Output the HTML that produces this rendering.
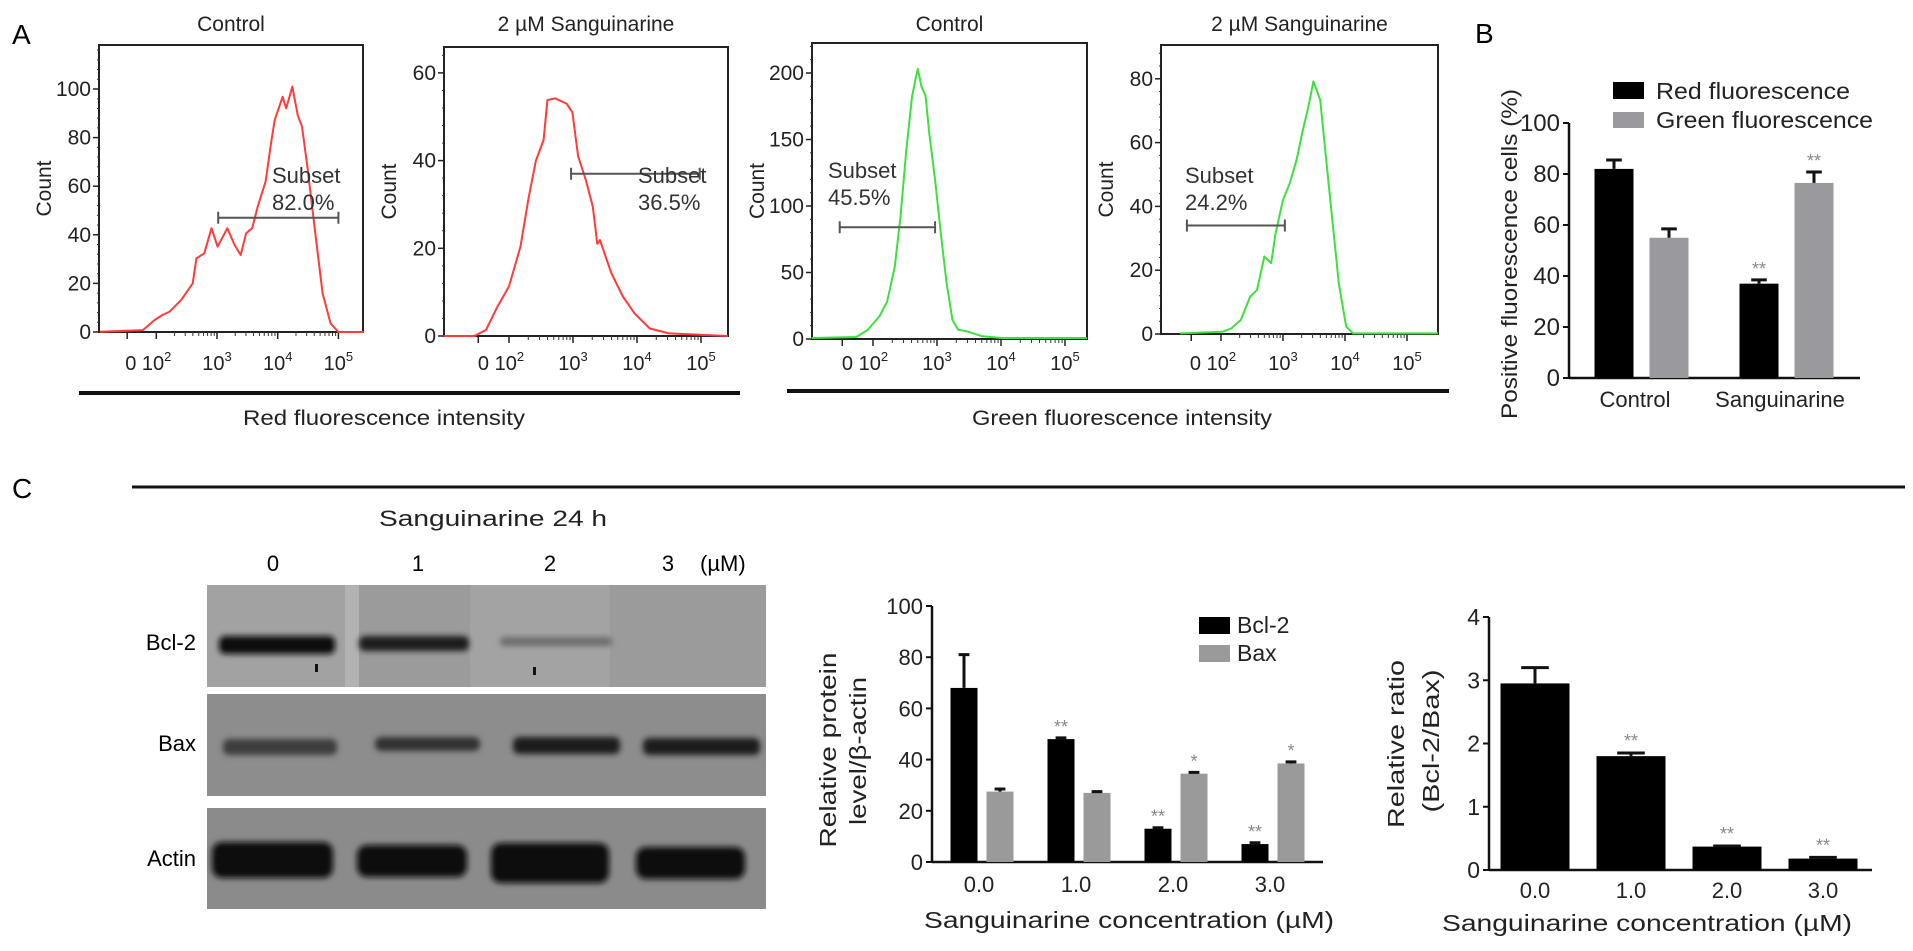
<!DOCTYPE html>
<html><head><meta charset="utf-8"><style>
html,body{margin:0;padding:0;background:#fff;}
svg{display:block;font-family:"Liberation Sans",Arial,sans-serif;}
</style></head><body>
<svg id="fig" width="1913" height="951" viewBox="0 0 1913 951" xmlns="http://www.w3.org/2000/svg">
<defs><filter id="blur" x="-20%" y="-50%" width="140%" height="200%"><feGaussianBlur stdDeviation="3"/></filter></defs>
<rect width="1913" height="951" fill="#fff"/>
<text x="12" y="44" font-size="28">A</text>
<text x="1475" y="43" font-size="28">B</text>
<text x="12" y="498" font-size="28">C</text>
<line x1="79" y1="393" x2="740" y2="393" stroke="#111" stroke-width="4"/>
<line x1="787" y1="391" x2="1449" y2="391" stroke="#111" stroke-width="4"/>
<text x="384" y="425" font-size="21" text-anchor="middle" textLength="282" lengthAdjust="spacingAndGlyphs" fill="#222">Red fluorescence intensity</text>
<text x="1122" y="425" font-size="21" text-anchor="middle" textLength="300" lengthAdjust="spacingAndGlyphs" fill="#222">Green fluorescence intensity</text>
<line x1="132" y1="487" x2="1905" y2="487" stroke="#111" stroke-width="3"/>
<g id="blot">
<text x="493" y="526" font-size="22" text-anchor="middle" textLength="228" lengthAdjust="spacingAndGlyphs" fill="#222">Sanguinarine 24 h</text>
<text x="273" y="571" font-size="22" text-anchor="middle">0</text>
<text x="418" y="571" font-size="22" text-anchor="middle">1</text>
<text x="550" y="571" font-size="22" text-anchor="middle">2</text>
<text x="668" y="571" font-size="22" text-anchor="middle">3</text>
<text x="700" y="571" font-size="22">(µM)</text>
<text x="196" y="650" font-size="22" text-anchor="end">Bcl-2</text>
<text x="196" y="751" font-size="22" text-anchor="end">Bax</text>
<text x="196" y="866" font-size="22" text-anchor="end">Actin</text>
<rect x="207" y="585" width="559" height="102" fill="#9b9b9b"/>
<rect x="207" y="585" width="138" height="102" fill="#a2a2a2"/>
<rect x="345" y="585" width="14" height="102" fill="#b2b2b2"/>
<rect x="470" y="585" width="140" height="102" fill="#a3a3a3"/>
<rect x="219" y="636" width="116" height="18" rx="6" fill="#111" filter="url(#blur)"/>
<rect x="359" y="636" width="110" height="15" rx="6" fill="#1a1a1a" filter="url(#blur)"/>
<rect x="500" y="637" width="112" height="9" rx="4" fill="#6d6d6d" filter="url(#blur)"/>
<rect x="315" y="664" width="3" height="8" fill="#111"/>
<rect x="533" y="667" width="3" height="8" fill="#111"/>
<rect x="207" y="694" width="559" height="102" fill="#8d8d8d"/>
<rect x="223" y="739" width="114" height="16" rx="6" fill="#3c3c3c" filter="url(#blur)"/>
<rect x="375" y="737" width="105" height="14" rx="6" fill="#333" filter="url(#blur)"/>
<rect x="513" y="737" width="107" height="17" rx="6" fill="#1c1c1c" filter="url(#blur)"/>
<rect x="643" y="738" width="117" height="17" rx="6" fill="#1e1e1e" filter="url(#blur)"/>
<rect x="207" y="808" width="559" height="101" fill="#8b8b8b"/>
<rect x="212" y="842" width="121" height="36" rx="10" fill="#080808" filter="url(#blur)"/>
<rect x="357" y="845" width="110" height="32" rx="10" fill="#080808" filter="url(#blur)"/>
<rect x="491" y="843" width="118" height="40" rx="10" fill="#080808" filter="url(#blur)"/>
<rect x="636" y="847" width="109" height="32" rx="10" fill="#080808" filter="url(#blur)"/>
</g>
</svg>
<script>
// ---------- Panel A histogram data (x in decade units: 2 = 10^2, 3 = 10^3 ...; y = count) ----------
const hist1X = [1.07,1.78,1.97,2.10,2.22,2.41,2.60,2.66,2.79,2.91,3.01,3.17,3.29,3.39,3.48,3.58,3.67,3.80,3.89,3.95,4.08,4.14,4.24,4.33,4.40,4.49,4.62,4.74,4.87,5.00,5.42];
const hist1Y = [0.1,0.8,4.9,7,8.4,13.2,20,30.3,32.4,42.7,35.1,42.7,35.8,31.7,40.6,42.7,51.6,61.9,77.6,87.2,96.8,92,101,89.3,84.5,68,40.6,15.9,3.6,0,0];
const hist2X = [0.98,1.46,1.64,1.82,2.0,2.18,2.30,2.42,2.54,2.60,2.72,2.90,2.99,3.08,3.20,3.31,3.38,3.42,3.60,3.78,3.96,4.20,4.50,5.42];
const hist2Y = [0,0,1.4,6.7,11.3,20.4,31,40,44.7,53.8,54.2,53,51,41,35.6,29.5,21,21.9,14.3,9,5.2,1.7,0.6,0];
const hist3X = [1.04,1.74,1.92,2.10,2.22,2.34,2.43,2.52,2.61,2.67,2.70,2.76,2.82,2.88,2.97,3.06,3.15,3.24,3.33,3.47,3.71,4.01,5.34];
const hist3Y = [0.75,1.5,7,17,28,54.5,92,142,182,197,203,189.5,183,154.5,119.5,79.5,42,14.5,7,5.75,2,0.75,0.75];
const hist4X = [1.34,2.02,2.17,2.32,2.47,2.58,2.70,2.81,2.88,3.0,3.11,3.22,3.31,3.41,3.49,3.60,3.68,3.79,3.90,4.02,4.13,5.50];
const hist4Y = [0.2,0.7,1.8,4.4,11.7,13.8,24.3,22.2,31.6,42,47.3,54.6,63,71.3,79.2,73.4,57.7,36.8,15.9,2.3,0.2,0.2];
const histTitles = ["Control","2 µM Sanguinarine","Control","2 µM Sanguinarine"];
const yTicks1 = [0,20,40,60,80,100];
const yTicks2 = [0,20,40,60];
const yTicks3 = [0,50,100,150,200];
const yTicks4 = [0,20,40,60,80];
const xDecades = [2,3,4,5];
const gateStart = [3.02,2.97,1.48,1.45];
const gateEnd = [5.0,4.98,2.97,3.03];
const gateLevel = [47,37,84,34];
const subsetPct = ["82.0%","36.5%","45.5%","24.2%"];

// ---------- Panel B data ----------
const bCats = ["Control","Sanguinarine"];
const bRed = [82,37];
const bRedErr = [3.5,1.5];
const bGreen = [55,76.5];
const bGreenErr = [3.5,4.3];
const bRedSig = ["","**"];
const bGreenSig = ["","**"];
const bTicks = [0,20,40,60,80,100];

// ---------- Panel C protein data ----------
const cCats = ["0.0","1.0","2.0","3.0"];
const cBcl2 = [68,48,13,7];
const cBcl2Err = [13,0.5,0.4,0.5];
const cBax = [27.5,27,34.5,38.5];
const cBaxErr = [1,0.5,0.5,0.6];
const cBcl2Sig = ["","**","**","**"];
const cBaxSig = ["","","*","*"];
const cTicks = [0,20,40,60,80,100];

// ---------- Panel C ratio data ----------
const rVals = [2.95,1.8,0.37,0.18];
const rErr = [0.25,0.05,0.01,0.02];
const rSig = ["","**","**","**"];
const rTicks = [0,1,2,3,4];

const NS = 'http://www.w3.org/2000/svg';
const svg = document.getElementById('fig');
function mk(tag, attrs, parent) {
  const e = document.createElementNS(NS, tag);
  for (const k in attrs) e.setAttribute(k, attrs[k]);
  (parent || svg).appendChild(e);
  return e;
}
function txt(s, attrs, parent) { const t = mk('text', attrs, parent); t.textContent = s; return t; }

// ----- histograms -----
const panels = [
  {box:[99,45,363,332], ppc:2.43, x3:217, dec:60.7, ticks:yTicks1, xs:hist1X, ys:hist1Y, color:'#ff3b3b', sub:'center', subX:272, subY:183},
  {box:[444,47,728,336], ppc:4.385, x3:573, dec:64, ticks:yTicks2, xs:hist2X, ys:hist2Y, color:'#ff3b3b', sub:'center', subX:638, subY:183},
  {box:[812,43,1087,339], ppc:1.33, x3:937, dec:64, ticks:yTicks3, xs:hist3X, ys:hist3Y, color:'#3ee03e', sub:'start', subX:828, subY:178},
  {box:[1161,45,1438,334], ppc:3.19, x3:1283, dec:62, ticks:yTicks4, xs:hist4X, ys:hist4Y, color:'#3ee03e', sub:'start', subX:1185, subY:183}
];
panels.forEach((p, i) => {
  const [x0,y0,x1,y1] = p.box;
  const g = mk('g', {});
  
  
  const sx = d => p.x3 + (d - 3) * p.dec;
  const sy = v => y1 - v * p.ppc;
  const t = txt(histTitles[i], {x:(x0+x1)/2, y:31, 'font-size':21, 'text-anchor':'middle', fill:'#222'}, g);
  
  
  const box = mk('rect', {x:x0, y:y0, width:x1-x0, height:y1-y0, fill:'none', stroke:'#222', 'stroke-width':2}, g);
  
  
  const cl = txt('Count', {x:0, y:0, 'font-size':21, 'text-anchor':'middle', transform:`translate(${x0-48},${(y0+y1)/2}) rotate(-90)`, fill:'#222'}, g);
  
  
  const step = p.ticks[1] - p.ticks[0];
  for (let v = 0; v <= p.ticks[p.ticks.length-1] + step; v += step/5) {
    const yy = sy(v);
    if (yy < y0) break;
    const mt = mk('line', {x1:x0-2, x2:x0, y1:yy, y2:yy, stroke:'#333', 'stroke-width':1}, g);
    
    
  }
  p.ticks.forEach(v => {
    const tk = mk('line', {x1:x0-6, x2:x0, y1:sy(v), y2:sy(v), stroke:'#222', 'stroke-width':1.5}, g);
    
    
    const tl = txt(String(v), {x:x0-8, y:sy(v)+7, 'font-size':21, 'text-anchor':'end', fill:'#222'}, g);
    
    
  });
  xDecades.forEach(d => {
    const tk = mk('line', {x1:sx(d), x2:sx(d), y1:y1, y2:y1+7, stroke:'#222', 'stroke-width':1.5}, g);
    
    
    for (let m = 2; m <= 9 && d < 5; m++) {
      const xm = sx(d + Math.log10(m));
      const mt = mk('line', {x1:xm, x2:xm, y1:y1, y2:y1+4, stroke:'#333', 'stroke-width':1}, g);
      
      
    }
    const lab = txt('', {x:sx(d), y:370, 'font-size':20, 'text-anchor':'middle', fill:'#222'}, g);
    
    
    const prefix = d === 2 ? '0 10' : '10';
    const a = mk('tspan', {}, lab); a.textContent = prefix;
    const b = mk('tspan', {dy:-9, 'font-size':13}, lab); b.textContent = String(d);
    if (d === 2) lab.setAttribute('x', sx(d) - 8);
  });
  const zt = mk('line', {x1:sx(1.52), x2:sx(1.52), y1:y1, y2:y1+7, stroke:'#222', 'stroke-width':1.5}, g);
  
  
  const pts = p.xs.map((d, k) => `${sx(d).toFixed(1)},${sy(p.ys[k]).toFixed(1)}`).join(' ');
  const curve = mk('polyline', {points:pts, fill:'none', stroke:p.color, 'stroke-width':2, 'stroke-linejoin':'round'}, g);
  
  
  const gy = sy(gateLevel[i]);
  const ga = sx(gateStart[i]), gb = sx(gateEnd[i]);
  const gl = mk('path', {d:`M${ga},${gy}H${gb}M${ga},${gy-6}V${gy+6}M${gb},${gy-6}V${gy+6}`, stroke:'#555', 'stroke-width':2, fill:'none'}, g);
  
  
  const s1 = txt('Subset', {x:p.subX, y:p.subY, 'font-size':22, 'text-anchor':p.sub, fill:'#333'}, g);
  
  
  const s2 = txt(subsetPct[i], {x:p.subX, y:p.subY+27, 'font-size':22, 'text-anchor':p.sub, fill:'#333'}, g);
  
  
});

// ----- generic bar chart axis helper -----
function yAxis(g, x, yBase, ppu, ticks, fmt, fs) {
  const top = yBase - ticks[ticks.length-1]*ppu;
  const ax = mk('line', {x1:x, x2:x, y1:top, y2:yBase, stroke:'#111', 'stroke-width':2.5}, g);
  
  
  ticks.forEach(v => {
    const yy = yBase - v*ppu;
    const tk = mk('line', {x1:x-6, x2:x, y1:yy, y2:yy, stroke:'#111', 'stroke-width':2}, g);
    
    
    const tl = txt(fmt(v), {x:x-9, y:yy+8, 'font-size':fs, 'text-anchor':'end', fill:'#222'}, g);
    
    
  });
}
function bar(g, cx, w, yBase, ppu, v, err, color, name) {
  const yy = yBase - v*ppu;
  const r = mk('rect', {x:cx-w/2, y:yy, width:w, height:v*ppu, fill:color}, g);
  
  
  const ye = yBase - (v+err)*ppu;
  const e = mk('path', {d:`M${cx},${yy}V${ye}M${cx-w*0.2},${ye}H${cx+w*0.2}`, stroke:'#111', 'stroke-width':3, fill:'none'}, g);
  
  
  return ye;
}
function sig(g, cx, y, s) {
  if (!s) return;
  const t = txt(s, {x:cx, y:y, 'font-size':18, 'text-anchor':'middle', fill:'#888'}, g);
  
  
}

// ----- Panel B -----
{
  const g = mk('g', {});
  
  
  const yB = 378, ppu = 2.55, ax = 1569;
  yAxis(g, ax, yB, ppu, bTicks, v => String(v), 24);
  const xa = mk('line', {x1:ax, x2:1860, y1:yB, y2:yB, stroke:'#111', 'stroke-width':2.5}, g);
  
  
  const gx = i => 1641 + i*145;
  bCats.forEach((c, i) => {
    const ye1 = bar(g, gx(i)-27, 39, yB, ppu, bRed[i], bRedErr[i], '#000', 'bar-red-' + c.toLowerCase());
    sig(g, gx(i)-27, ye1-5, bRedSig[i]);
    const ye2 = bar(g, gx(i)+28, 39, yB, ppu, bGreen[i], bGreenErr[i], '#9a9a9e', 'bar-green-' + c.toLowerCase());
    sig(g, gx(i)+28, ye2-5, bGreenSig[i]);
    const l = txt(c, {x:gx(i)-6, y:407, 'font-size':22, 'text-anchor':'middle', fill:'#222'}, g);
    
    
  });
  const yt = txt('Positive fluorescence cells (%)', {x:0, y:0, 'font-size':22, 'text-anchor':'middle', textLength:330, lengthAdjust:'spacingAndGlyphs', transform:'translate(1517,254) rotate(-90)', fill:'#222'}, g);
  
  
  const ls1 = mk('rect', {x:1613, y:82, width:31, height:17, fill:'#000'}, g);
  
  
  const lt1 = txt('Red fluorescence', {x:1656, y:99, 'font-size':23, textLength:194, lengthAdjust:'spacingAndGlyphs', fill:'#222'}, g);
  
  
  const ls2 = mk('rect', {x:1613, y:112, width:31, height:16, fill:'#9a9a9e'}, g);
  
  
  const lt2 = txt('Green fluorescence', {x:1656, y:128, 'font-size':23, textLength:217, lengthAdjust:'spacingAndGlyphs', fill:'#222'}, g);
  
  
}

// ----- Panel C protein chart -----
{
  const g = mk('g', {});
  
  
  const yB = 862, ppu = 2.56, ax = 932;
  yAxis(g, ax, yB, ppu, cTicks, v => String(v), 22);
  const xa = mk('line', {x1:ax, x2:1323, y1:yB, y2:yB, stroke:'#111', 'stroke-width':2.5}, g);
  
  
  const gx = i => 982 + i*97;
  cCats.forEach((c, i) => {
    const ye1 = bar(g, gx(i)-18, 27, yB, ppu, cBcl2[i], cBcl2Err[i], '#000', 'bar-bcl2-' + c);
    sig(g, gx(i)-18, ye1-5, cBcl2Sig[i]);
    const ye2 = bar(g, gx(i)+18, 27, yB, ppu, cBax[i], cBaxErr[i], '#9a9a9a', 'bar-bax-' + c);
    sig(g, gx(i)+18, ye2-5, cBaxSig[i]);
    const l = txt(c, {x:gx(i)-3, y:892, 'font-size':22, 'text-anchor':'middle', fill:'#222'}, g);
    
    
  });
  const xt = txt('Sanguinarine concentration (µM)', {x:1129, y:928, 'font-size':23, 'text-anchor':'middle', textLength:410, lengthAdjust:'spacingAndGlyphs', fill:'#222'}, g);
  
  
  const y1 = txt('Relative protein', {x:0, y:0, 'font-size':23, 'text-anchor':'middle', textLength:195, lengthAdjust:'spacingAndGlyphs', transform:'translate(836,750) rotate(-90)', fill:'#222'}, g);
  
  
  const y2 = txt('level/β-actin', {x:0, y:0, 'font-size':23, 'text-anchor':'middle', textLength:148, lengthAdjust:'spacingAndGlyphs', transform:'translate(866,751) rotate(-90)', fill:'#222'}, g);
  
  
  const ls1 = mk('rect', {x:1199, y:617, width:31, height:17, fill:'#000'}, g);
  
  
  const lt1 = txt('Bcl-2', {x:1237, y:633, 'font-size':23, fill:'#222'}, g);
  
  
  const ls2 = mk('rect', {x:1199, y:645, width:31, height:17, fill:'#9a9a9a'}, g);
  
  
  const lt2 = txt('Bax', {x:1237, y:661, 'font-size':23, fill:'#222'}, g);
  
  
}

// ----- Panel C ratio chart -----
{
  const g = mk('g', {});
  
  
  const yB = 870, ppu = 63.25, ax = 1489;
  yAxis(g, ax, yB, ppu, rTicks, v => String(v), 23);
  const xa = mk('line', {x1:ax, x2:1872, y1:yB, y2:yB, stroke:'#111', 'stroke-width':2.5}, g);
  
  
  const gx = i => 1535 + i*96;
  cCats.forEach((c, i) => {
    const ye = bar(g, gx(i), 69, yB, ppu, rVals[i], rErr[i], '#000', 'bar-ratio-' + c);
    sig(g, gx(i), ye-6, rSig[i]);
    const l = txt(c, {x:gx(i), y:898, 'font-size':22, 'text-anchor':'middle', fill:'#222'}, g);
    
    
  });
  const xt = txt('Sanguinarine concentration (µM)', {x:1647, y:931, 'font-size':23, 'text-anchor':'middle', textLength:410, lengthAdjust:'spacingAndGlyphs', fill:'#222'}, g);
  
  
  const y1 = txt('Relative ratio', {x:0, y:0, 'font-size':23, 'text-anchor':'middle', textLength:168, lengthAdjust:'spacingAndGlyphs', transform:'translate(1404,744) rotate(-90)', fill:'#222'}, g);
  
  
  const y2 = txt('(Bcl-2/Bax)', {x:0, y:0, 'font-size':23, 'text-anchor':'middle', textLength:143, lengthAdjust:'spacingAndGlyphs', transform:'translate(1439,741) rotate(-90)', fill:'#222'}, g);
  
  
}
</script>
</body></html>
